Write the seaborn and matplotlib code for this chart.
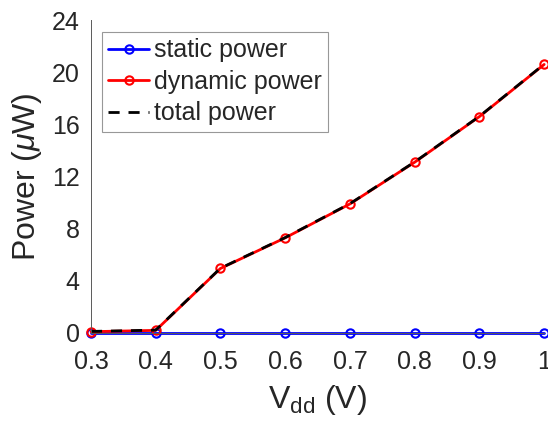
import matplotlib
matplotlib.use("Agg")
import matplotlib.pyplot as plt
import seaborn as sns
import pandas as pd

vdd = [0.3, 0.4, 0.5, 0.6, 0.7, 0.8, 0.9, 1.0]
static_power = [0.02, 0.02, 0.02, 0.02, 0.02, 0.02, 0.02, 0.02]
dynamic_power = [0.1, 0.2, 4.95, 7.3, 9.9, 13.1, 16.6, 20.6]
total_power = [s + d for s, d in zip(static_power, dynamic_power)]
y_ticks = [0, 4, 8, 12, 16, 20, 24]
x_ticks = [0.3, 0.4, 0.5, 0.6, 0.7, 0.8, 0.9, 1.0]
x_tick_labels = ["0.3", "0.4", "0.5", "0.6", "0.7", "0.8", "0.9", "1"]

df = pd.DataFrame({"vdd": vdd, "static": static_power,
                   "dynamic": dynamic_power, "total": total_power})

sns.set_style("white")
plt.rcParams["font.family"] = ["Liberation Sans", "DejaVu Sans"]
plt.rcParams["mathtext.fontset"] = "custom"
plt.rcParams["mathtext.rm"] = "Liberation Sans"
plt.rcParams["mathtext.it"] = "Liberation Sans:italic"

fig, ax = plt.subplots(figsize=(5.48, 4.28), dpi=100)
fig.subplots_adjust(left=0.166, right=0.993, bottom=0.222, top=0.953)

axis_col = "#262626"
spine_col = "#5a5a5a"
sns.lineplot(data=df, x="vdd", y="static", ax=ax, color="#0000ff", lw=2,
             marker="o", markersize=6, markerfacecolor="none",
             markeredgecolor="#0000ff", markeredgewidth=1.5,
             label="static power", clip_on=False)
sns.lineplot(data=df, x="vdd", y="dynamic", ax=ax, color="#ff0000", lw=2,
             marker="o", markersize=6, markerfacecolor="none",
             markeredgecolor="#ff0000", markeredgewidth=1.5,
             label="dynamic power", clip_on=False)
sns.lineplot(data=df, x="vdd", y="total", ax=ax, color="black", lw=2,
             label="total power", clip_on=False)
ax.lines[-1].set_linestyle((0, (4, 3.2)))

ax.set_xlim(0.3, 1.0)
ax.set_ylim(0, 24)
ax.set_xticks(x_ticks)
ax.set_xticklabels(x_tick_labels)
ax.set_yticks(y_ticks)
ax.tick_params(direction="in", length=5, width=0.7, color=spine_col,
               labelsize=18, labelcolor=axis_col)
ax.tick_params(axis="x", pad=12)
ax.tick_params(axis="y", pad=8)
for side in ["top", "right"]:
    ax.spines[side].set_visible(False)
for side in ["left", "bottom"]:
    ax.spines[side].set_color(spine_col)
    ax.spines[side].set_linewidth(0.7)

ax.set_xlabel(r"V$_{\mathrm{dd}}$ (V)", fontsize=23, color=axis_col, labelpad=7)
ax.set_ylabel(r"Power ($\mu$W)", fontsize=23, color=axis_col, labelpad=6)

leg = ax.legend(loc="upper left", bbox_to_anchor=(0.024, 0.962), fontsize=18,
                frameon=True, fancybox=False, handlelength=1.65,
                handletextpad=0.2, borderpad=0.25, labelspacing=0.3,
                borderaxespad=0)
leg.get_frame().set_edgecolor("#7f7f7f")
leg.get_frame().set_linewidth(0.8)

fig.savefig("out.png", dpi=100)
